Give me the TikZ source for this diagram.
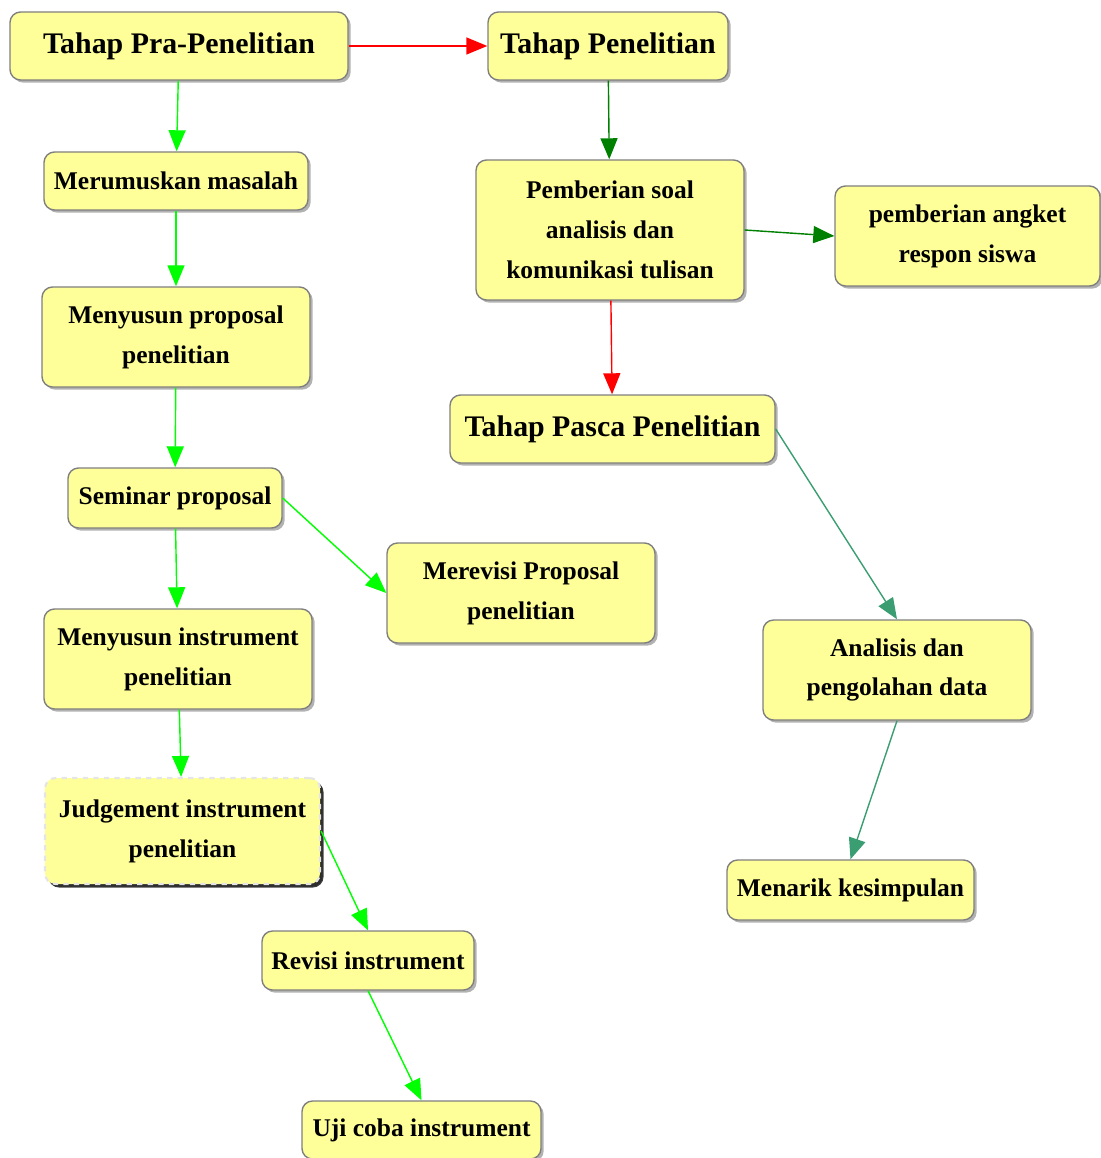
\documentclass[tikz,border=0pt]{standalone}
\usepackage{fontspec}
\setmainfont{Liberation Serif}
\usetikzlibrary{arrows.meta,shadows}
\definecolor{stfill}{HTML}{FFFF99}
\definecolor{stedge}{HTML}{7F7F7F}
\definecolor{stred}{HTML}{FF0000}
\definecolor{stlime}{HTML}{00FF00}
\definecolor{stdark}{HTML}{008000}
\definecolor{stteal}{HTML}{3A9E72}

\tikzset{
  stepbox/.style={draw=stedge,fill=stfill,rounded corners=6pt,align=center,inner sep=0pt,
    font=\bfseries\fontsize{14.5}{22.7}\selectfont,
    drop shadow={shadow xshift=1.5pt,shadow yshift=-1.5pt,fill=black,opacity=0.3}},
  phasebox/.style={stepbox,font=\bfseries\fontsize{17}{20}\selectfont},
  judgebox/.style={stepbox,draw=gray!20,dashed,line width=1.2pt,
    drop shadow={shadow xshift=2pt,shadow yshift=-2pt,fill=black,opacity=0.75}}
}

\begin{document}
\begin{tikzpicture}[x=1cm,y=1cm,>={Triangle[length=0.42cm,width=0.34cm]},line width=0.8pt]
  \useasboundingbox (0,0) rectangle (22,-23.16);
  % tahap
  \node[phasebox,minimum width=6.76cm,minimum height=1.36cm] (pra) at (3.58,-0.92) {Tahap Pra-Penelitian};
  \node[phasebox,minimum width=4.8cm,minimum height=1.36cm] (pen) at (12.16,-0.92) {Tahap Penelitian};
  \node[phasebox,minimum width=6.5cm,minimum height=1.36cm] (pasca) at (12.25,-8.58) {Tahap Pasca Penelitian};
  % pra-penelitian
  \node[stepbox,minimum width=5.28cm,minimum height=1.16cm] (rumus) at (3.52,-3.62) {Merumuskan masalah};
  \node[stepbox,minimum width=5.36cm,minimum height=2cm] (proposal) at (3.52,-6.74) {Menyusun proposal\\penelitian};
  \node[stepbox,minimum width=4.28cm,minimum height=1.2cm] (seminar) at (3.5,-9.96) {Seminar proposal};
  \node[stepbox,minimum width=5.36cm,minimum height=2cm] (revproposal) at (10.42,-11.86) {Merevisi Proposal\\penelitian};
  \node[stepbox,minimum width=5.36cm,minimum height=2cm] (instrumen) at (3.56,-13.18) {Menyusun instrument\\penelitian};
  \node[judgebox,minimum width=5.5cm,minimum height=2.12cm] (judge) at (3.65,-16.62) {Judgement instrument\\penelitian};
  \node[stepbox,minimum width=4.24cm,minimum height=1.18cm] (revinstr) at (7.36,-19.21) {Revisi instrument};
  \node[stepbox,minimum width=4.78cm,minimum height=1.16cm] (uji) at (8.43,-22.6) {Uji coba instrument};
  % penelitian
  \node[stepbox,minimum width=5.36cm,minimum height=2.8cm] (soal) at (12.2,-4.6) {Pemberian soal\\analisis dan\\komunikasi tulisan};
  \node[stepbox,minimum width=5.3cm,minimum height=2cm] (angket) at (19.35,-4.72) {pemberian angket\\respon siswa};
  % pasca
  \node[stepbox,minimum width=5.36cm,minimum height=2cm] (analisis) at (17.94,-13.4) {Analisis dan\\pengolahan data};
  \node[stepbox,minimum width=4.94cm,minimum height=1.2cm] (simpul) at (17.01,-17.8) {Menarik kesimpulan};

  \foreach \a/\b/\c in {pra.east/pen.west/stred, pra/rumus/stlime, rumus/proposal/stlime,
    proposal/seminar/stlime, seminar/instrumen/stlime, seminar.east/revproposal.west/stlime,
    instrumen/judge/stlime, judge.east/revinstr.north/stlime, revinstr.south/uji.north/stlime,
    pen/soal/stdark, soal.east/angket.west/stdark, soal/pasca/stred,
    pasca.east/analisis.north/stteal, analisis.south/simpul.north/stteal}
    \draw[->,\c] (\a) -- (\b);
\end{tikzpicture}
\end{document}
